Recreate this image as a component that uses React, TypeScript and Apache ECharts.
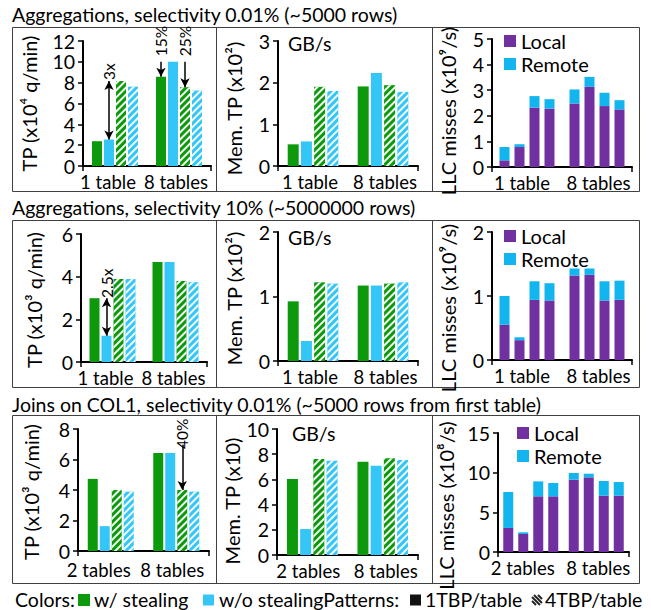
import React, { useEffect, useRef } from "react";
import * as echarts from "echarts";

const FONT = "Lato, 'Open Sans', sans-serif";

const GREEN = "#0c990c";
const BLUE = "#33c6f7";
const PURPLE = "#7030a0";
const REMOTE = "#12b5ee";

// ---------- texts ----------
const rowTitles = [
  "Aggregations, selectivity 0.01% (~5000 rows)",
  "Aggregations, selectivity 10% (~5000000 rows)",
  "Joins on COL1, selectivity 0.01% (~5000 rows from first table)",
];
const aggCategories = ["1 table", "8 tables"];
const joinCategories = ["2 tables", "8 tables"];
const configNames = [
  "w/ stealing, 1TBP/table",
  "w/o stealing, 1TBP/table",
  "w/ stealing, 4TBP/table",
  "w/o stealing, 4TBP/table",
];
const yNames = [
  "TP (x10⁴ q/min)",
  "Mem. TP (x10²)",
  "LLC misses (x10⁹/s)",
  "TP (x10³ q/min)",
  "Mem. TP (x10²)",
  "LLC misses (x10⁹/s)",
  "TP (x10³ q/min)",
  "Mem. TP (x10)",
  "LLC misses (x10⁸/s)",
];
const yMax = [12, 3, 5, 6, 2, 2, 8, 10, 15];
const yInterval = [2, 1, 1, 2, 1, 1, 2, 2, 5];

// ---------- Row 1: aggregations, selectivity 0.01% ----------
const agg1TpStealing1 = [2.38, 8.57];
const agg1TpNoStealing1 = [2.54, 10.0];
const agg1TpStealing4 = [8.16, 7.56];
const agg1TpNoStealing4 = [7.62, 7.24];

const agg1MemStealing1 = [0.52, 1.91];
const agg1MemNoStealing1 = [0.59, 2.23];
const agg1MemStealing4 = [1.9, 1.94];
const agg1MemNoStealing4 = [1.8, 1.78];

// [config][category]
const agg1LlcLocal = [[0.26, 2.48], [0.78, 3.13], [2.32, 2.38], [2.28, 2.25]];
const agg1LlcRemote = [[0.52, 0.55], [0.11, 0.39], [0.45, 0.52], [0.37, 0.36]];

// ---------- Row 2: aggregations, selectivity 10% ----------
const agg2TpStealing1 = [2.99, 4.69];
const agg2TpNoStealing1 = [1.23, 4.69];
const agg2TpStealing4 = [3.89, 3.8];
const agg2TpNoStealing4 = [3.89, 3.74];

const agg2MemStealing1 = [0.925, 1.17];
const agg2MemNoStealing1 = [0.31, 1.17];
const agg2MemStealing4 = [1.22, 1.2];
const agg2MemNoStealing4 = [1.2, 1.22];

const agg2LlcLocal = [[0.55, 1.32], [0.31, 1.33], [0.94, 0.93], [0.93, 0.94]];
const agg2LlcRemote = [[0.45, 0.11], [0.045, 0.1], [0.29, 0.3], [0.27, 0.3]];

// ---------- Row 3: joins on COL1 ----------
const joinTpStealing1 = [4.73, 6.42];
const joinTpNoStealing1 = [1.63, 6.42];
const joinTpStealing4 = [4.0, 4.0];
const joinTpNoStealing4 = [3.89, 3.89];

const joinMemStealing1 = [6.03, 7.41];
const joinMemNoStealing1 = [2.06, 7.09];
const joinMemStealing4 = [7.62, 7.67];
const joinMemNoStealing4 = [7.49, 7.54];

const joinLlcLocal = [[3.03, 9.12], [2.27, 9.41], [7.02, 7.1], [7.02, 7.1]];
const joinLlcRemote = [[4.53, 0.84], [0.21, 0.46], [1.88, 1.85], [1.68, 1.72]];

// ---------- annotations ----------
const annotations: any[] = [
  { panel: 0, series: 1, cat: 0, from: agg1TpNoStealing1[0], to: agg1TpStealing4[0], text: "3x", textAt: 9.05, both: true },
  { panel: 0, series: 0, cat: 1, from: 10.0, to: agg1TpStealing1[1], text: "15%", textAt: 12, both: false },
  { panel: 0, series: 2, cat: 1, from: 10.0, to: agg1TpStealing4[1], text: "25%", textAt: 12, both: false },
  { panel: 3, series: 1, cat: 0, from: agg2TpNoStealing1[0], to: agg2TpStealing1[0], text: "2.5x", textAt: 3.69, both: true },
  { panel: 6, series: 2, cat: 1, from: 6.97, to: joinTpStealing4[1], text: "40%", textAt: 7.69, both: false },
];

// ---------- layout ----------
const grids = [
  { left: 83, top: 41, width: 128, height: 125 },
  { left: 278, top: 41, width: 140, height: 125 },
  { left: 492, top: 39, width: 140, height: 128 },
  { left: 81, top: 234, width: 126, height: 128 },
  { left: 278, top: 232, width: 140, height: 129 },
  { left: 492, top: 232, width: 140, height: 128 },
  { left: 78, top: 429, width: 131, height: 122 },
  { left: 277, top: 429, width: 141, height: 126 },
  { left: 498, top: 433, width: 131, height: 119 },
];
const nameGaps = [44, 34, 34, 37, 34, 34, 37, 33, 42];
const nameShift = [0, 5, 8, 2, 2, 12, 2, 9, 13];
const labelShift = [
  [-7, -3],
  [-3, 2],
  [-5, 1.5],
  [-7, -2],
  [-3, 2.5],
  [-5, 1.5],
  [-12, -4],
  [-4, 3],
  [-8, 2],
];
const labelMargin = [6, 6, 6, 6, 6, 6, 9, 6, 6];
const legendPos = [
  { left: 504, top: 31, gap: 3, lh: 20 },
  { left: 504, top: 226, gap: 3, lh: 20 },
  { left: 517, top: 423, gap: 3, lh: 18 },
];

const hatch = {
  symbol: "rect",
  symbolSize: 1,
  color: "rgba(255,255,255,0.95)",
  dashArrayX: [1, 0],
  dashArrayY: [2, 3],
  rotation: -Math.PI / 4,
};

function labelRich(s: number) {
  return {
    fontSize: 18.5,
    fontFamily: FONT,
    color: "#000",
    padding: s < 0 ? [0, -2 * s, 0, 0] : [0, 0, 0, 2 * s],
  };
}

function buildOption() {
  const tpPanels = [
    { idx: 0, data: [agg1TpStealing1, agg1TpNoStealing1, agg1TpStealing4, agg1TpNoStealing4], bw: 10 },
    { idx: 1, data: [agg1MemStealing1, agg1MemNoStealing1, agg1MemStealing4, agg1MemNoStealing4], bw: 11 },
    { idx: 3, data: [agg2TpStealing1, agg2TpNoStealing1, agg2TpStealing4, agg2TpNoStealing4], bw: 10 },
    { idx: 4, data: [agg2MemStealing1, agg2MemNoStealing1, agg2MemStealing4, agg2MemNoStealing4], bw: 11 },
    { idx: 6, data: [joinTpStealing1, joinTpNoStealing1, joinTpStealing4, joinTpNoStealing4], bw: 10 },
    { idx: 7, data: [joinMemStealing1, joinMemNoStealing1, joinMemStealing4, joinMemNoStealing4], bw: 11 },
  ];
  const llcPanels = [
    { idx: 2, local: agg1LlcLocal, remote: agg1LlcRemote },
    { idx: 5, local: agg2LlcLocal, remote: agg2LlcRemote },
    { idx: 8, local: joinLlcLocal, remote: joinLlcRemote },
  ];

  const xAxis = grids.map((_, i) => ({
    gridIndex: i,
    type: "category",
    data: i >= 6 ? joinCategories : aggCategories,
    axisLine: { lineStyle: { color: "#000", width: 2 } },
    axisTick: {
      show: true,
      length: 5,
      interval: (index: number) => index === 0,
      lineStyle: { color: "#000", width: 1.5 },
    },
    axisLabel: {
      interval: 0,
      hideOverlap: false,
      fontSize: 18.5,
      color: "#000",
      fontFamily: FONT,
      margin: labelMargin[i],
      formatter: (v: string, idx: number) => `{c${idx}|${v}}`,
      rich: { c0: labelRich(labelShift[i][0]), c1: labelRich(labelShift[i][1]) },
    },
  }));
  const yAxis = grids.map((_, i) => ({
    gridIndex: i,
    type: "value",
    min: 0,
    max: yMax[i],
    interval: yInterval[i],
    name: yNames[i],
    nameLocation: "middle",
    nameRotate: 90,
    nameGap: nameGaps[i],
    nameTextStyle: {
      fontSize: 20,
      color: "#000",
      fontFamily: FONT,
      padding: [0, nameShift[i] * 2, 0, 0],
    },
    axisLine: { show: true, lineStyle: { color: "#000", width: 2 } },
    axisTick: { show: true, length: 5, lineStyle: { color: "#000", width: 1.5 } },
    axisLabel: { fontSize: 19.5, color: "#000", fontFamily: FONT, margin: 8 },
    splitLine: { show: false },
  }));

  const series: any[] = [];
  tpPanels.forEach((p) => {
    p.data.forEach((vals, k) => {
      const s: any = {
        type: "bar",
        name: configNames[k],
        xAxisIndex: p.idx,
        yAxisIndex: p.idx,
        data: vals,
        barWidth: p.bw,
        barGap: "20%",
        itemStyle: {
          color: k % 2 === 0 ? GREEN : BLUE,
          decal: k >= 2 ? hatch : undefined,
        },
      };
      const ann = annotations.filter((a) => a.panel === p.idx && a.series === k);
      if (ann.length) {
        s.markLine = {
          silent: true,
          symbol: ann[0].both ? ["arrow", "arrow"] : ["none", "arrow"],
          symbolSize: [7, 9],
          lineStyle: { color: "#000", width: 1.5, type: "solid" },
          label: { show: false },
          data: ann.map((a) => [{ coord: [a.cat, a.from] }, { coord: [a.cat, a.to] }]),
        };
        s.markPoint = {
          silent: true,
          symbol: "rect",
          symbolSize: 1,
          itemStyle: { color: "rgba(0,0,0,0)" },
          label: {
            show: true,
            position: "inside",
            rotate: 90,
            color: "#000",
            fontSize: 15.5,
            fontFamily: FONT,
            formatter: (pp: any) => pp.name,
          },
          data: ann.map((a) => ({ name: a.text, coord: [a.cat, a.textAt] })),
        };
      }
      series.push(s);
    });
  });
  llcPanels.forEach((p) => {
    for (let k = 0; k < 4; k++) {
      series.push({
        type: "bar",
        name: "Local",
        xAxisIndex: p.idx,
        yAxisIndex: p.idx,
        stack: `llc${p.idx}_${k}`,
        data: p.local[k],
        barWidth: 10,
        barGap: "50%",
        itemStyle: { color: PURPLE },
      });
      series.push({
        type: "bar",
        name: "Remote",
        xAxisIndex: p.idx,
        yAxisIndex: p.idx,
        stack: `llc${p.idx}_${k}`,
        data: p.remote[k],
        barWidth: 10,
        barGap: "50%",
        itemStyle: { color: REMOTE },
      });
    }
  });

  const legend = legendPos.map((l) => ({
    data: ["Local", "Remote"],
    orient: "vertical",
    left: l.left,
    top: l.top,
    padding: 0,
    icon: "rect",
    itemWidth: 12,
    itemHeight: 12,
    itemGap: l.gap,
    selectedMode: false,
    textStyle: { fontSize: 20, lineHeight: l.lh, color: "#000", fontFamily: FONT },
  }));

  const elements: any[] = [];
  const rowBoxes = [
    { y: 14, top: 27, bottom: 191 },
    { y: 207, top: 220, bottom: 387 },
    { y: 404, top: 415, bottom: 583 },
  ];
  rowBoxes.forEach((r, i) => {
    elements.push({
      type: "text",
      x: 12,
      y: r.y,
      style: { text: rowTitles[i], fontSize: 19.5, fontFamily: FONT, fill: "#000", verticalAlign: "middle" },
    });
    elements.push({
      type: "rect",
      shape: { x: 12.5, y: r.top + 0.5, width: 627, height: r.bottom - r.top },
      style: { fill: "none", stroke: "#404040", lineWidth: 1 },
    });
    [216.5, 432.5].forEach((x) =>
      elements.push({
        type: "line",
        shape: { x1: x, y1: r.top, x2: x, y2: r.bottom },
        style: { stroke: "#404040", lineWidth: 1 },
      })
    );
  });
  [
    { x: 288, y: 43 },
    { x: 288, y: 237 },
    { x: 292, y: 433 },
  ].forEach((g) =>
    elements.push({
      type: "text",
      x: g.x,
      y: g.y,
      style: { text: "GB/s", fontSize: 19.5, fontFamily: FONT, fill: "#000", verticalAlign: "middle" },
    })
  );

  // bottom legend
  const ly = 599;
  const ltext = (x: number, t: string) =>
    elements.push({
      type: "text",
      x,
      y: ly,
      style: { text: t, fontSize: 19.5, fontFamily: FONT, fill: "#000", verticalAlign: "middle" },
    });
  const lrect = (x: number, c: string, size: number) =>
    elements.push({ type: "rect", shape: { x, y: ly + 1 - size / 2, width: size, height: size }, style: { fill: c } });
  ltext(15, "Colors:");
  lrect(78, GREEN, 12);
  ltext(94, "w/ stealing");
  lrect(203, BLUE, 11);
  ltext(219, "w/o stealingPatterns:");
  lrect(410, "#111", 11);
  ltext(425, "1TBP/table");
  const hx = 532;
  const hy = ly - 4;
  [-6, -2, 2, 6].forEach((d) =>
    elements.push({
      type: "line",
      shape: {
        x1: hx + Math.max(0, d),
        y1: hy + Math.max(0, -d),
        x2: hx + 10 + Math.min(0, d),
        y2: hy + 10 - Math.max(0, d),
      },
      style: { stroke: "#222", lineWidth: 2 },
    })
  );
  ltext(545, "4TBP/table");

  return {
    animation: false,
    backgroundColor: "#fff",
    textStyle: { fontFamily: FONT },
    grid: grids.map((g) => ({ ...g, containLabel: false })),
    xAxis,
    yAxis,
    legend,
    series,
    graphic: { elements },
  };
}

export default function App() {
  const ref = useRef<HTMLDivElement>(null);
  useEffect(() => {
    if (!ref.current) return;
    const chart = echarts.init(ref.current, null, { renderer: "svg" });
    chart.setOption(buildOption() as any);
    return () => chart.dispose();
  }, []);
  return (
    <div
      ref={ref}
      style={{ position: "absolute", left: 0, top: 0, width: 651, height: 610, background: "#fff" }}
    />
  );
}
